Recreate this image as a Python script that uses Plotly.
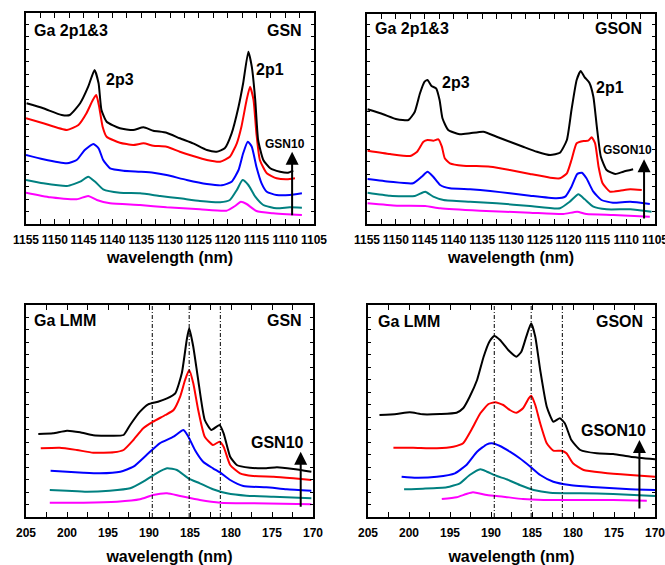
import plotly.graph_objects as go

W, H = 665, 565

# ---------------- Ga 2p1&3, GSN series (wavelength nm, intensity a.u.) ----------------
gsn_2p_black_wl = [1154.9, 1152.0, 1148.8, 1147.4, 1145.6, 1144.2, 1143.1, 1142.4, 1141.9, 1141.0,
                   1138.7, 1136.4, 1134.6, 1132.9, 1130.6, 1128.3, 1126.0, 1123.6, 1121.9, 1120.5,
                   1119.3, 1118.1, 1117.3, 1116.4, 1115.8, 1115.2, 1114.7, 1113.8, 1112.6, 1110.9,
                   1109.5, 1108.6]
gsn_2p_black_int = [120.7, 115.7, 109, 109, 120.7, 137.3, 154, 140.7, 114, 102.3,
                    95.7, 94, 96.7, 93.3, 91.3, 85.7, 80.7, 74, 72.3, 75.7,
                    90.7, 117.3, 140.7, 172.3, 157.3, 124, 84, 64, 55.7, 52.3,
                    51.3, 53.3]
gsn_2p_red_wl = [1155.0, 1152.0, 1147.9, 1145.9, 1144.5, 1143.4, 1142.8, 1142.3, 1141.7, 1141.0,
                 1138.7, 1136.4, 1134.6, 1132.9, 1130.6, 1128.3, 1126.0, 1123.6, 1121.3, 1119.6,
                 1118.4, 1117.6, 1116.7, 1116.1, 1115.5, 1115.0, 1114.4, 1113.2, 1111.5, 1109.7,
                 1108.3]
gsn_2p_red_int = [105.7, 100.7, 94, 99, 110.7, 124, 129, 117.3, 97.3, 87.3,
                  81.3, 79, 80.7, 78.3, 77.3, 72.3, 68, 64, 62.3, 67.3,
                  80.7, 97.3, 124, 137.3, 124, 90.7, 64, 50.7, 45.7, 44.7,
                  45.7]
gsn_2p_blue_wl = [1155.0, 1152.0, 1147.9, 1146.2, 1144.8, 1143.3, 1142.4, 1141.6, 1140.4, 1138.1,
                  1135.2, 1132.9, 1130.6, 1127.1, 1123.6, 1121.0, 1119.3, 1118.1, 1117.3, 1116.5,
                  1115.8, 1115.0, 1114.1, 1113.2, 1111.5, 1109.2, 1107.1]
gsn_2p_blue_int = [69, 64.7, 60.7, 64, 74, 80, 75.7, 64, 55.7, 53.3,
                   52.3, 51.3, 49, 44, 40, 38.7, 42.3, 54, 70.7, 82.3,
                   77.3, 57.3, 40.7, 32.3, 29, 29, 30.7]
gsn_2p_teal_wl = [1155.0, 1152.0, 1147.9, 1145.6, 1144.2, 1143.0, 1141.6, 1138.7, 1135.2, 1131.7,
                  1128.3, 1124.8, 1121.3, 1119.6, 1118.4, 1117.4, 1116.4, 1115.2, 1113.8, 1111.5,
                  1109.2, 1107.1]
gsn_2p_teal_int = [44, 40.7, 38, 42.3, 47.3, 42.3, 34.7, 31.3, 30.7, 28,
                   25.7, 23, 21.7, 24, 34, 44, 39, 27.3, 19, 15.7,
                   16.7, 16.3]
gsn_2p_pink_wl = [1155.0, 1150.8, 1146.2, 1144.2, 1142.7, 1140.4, 1135.2, 1130.6, 1124.8, 1120.2,
                  1118.7, 1117.7, 1116.7, 1115.0, 1112.1, 1109.7, 1107.1]
gsn_2p_pink_int = [31.3, 26.7, 24.7, 28, 24, 20.7, 19, 16.7, 14.7, 13.3,
                   18, 22.3, 20, 13, 10.7, 9.7, 9]

# ---------------- Ga 2p1&3, GSON series ----------------
gson_2p_black_wl = [1154.9, 1152.2, 1149.8, 1147.8, 1146.7, 1145.8, 1145.0, 1144.5, 1143.8, 1143.0,
                    1142.4, 1141.9, 1140.9, 1138.9, 1137.1, 1134.8, 1132.5, 1130.2, 1127.9, 1125.5,
                    1123.2, 1121.5, 1120.3, 1119.5, 1118.6, 1117.9, 1117.2, 1116.4, 1115.7, 1115.1,
                    1114.4, 1113.4, 1111.9, 1110.5, 1108.8]
gson_2p_black_int = [114.7, 109.7, 104.7, 104, 112.3, 130.7, 142.3, 144, 138, 135.7,
                     124, 105.7, 94, 89.7, 90.7, 92.3, 87.3, 82.3, 77.3, 72.3,
                     69, 71.3, 84, 114, 144, 153, 146.7, 141.3, 127.3, 97.3,
                     67.3, 54, 50, 52.3, 54.7]
gson_2p_red_wl = [1154.9, 1151.0, 1147.5, 1146.3, 1145.2, 1144.5, 1143.5, 1142.6, 1142.0, 1141.5,
                  1140.6, 1138.3, 1136.0, 1133.6, 1130.2, 1126.7, 1123.2, 1121.5, 1120.3, 1119.5,
                  1118.6, 1117.4, 1116.6, 1116.0, 1115.4, 1114.8, 1114.1, 1112.8, 1111.1, 1109.3,
                  1107.3]
gson_2p_red_int = [73.3, 70, 68, 72.3, 82.3, 84, 83.3, 84.7, 77.3, 65.7,
                   60.7, 58.3, 58, 57.3, 54, 50, 46.3, 45.7, 50.7, 64,
                   80.7, 83, 83.3, 86.7, 80.7, 57.3, 40.7, 32.3, 33.3, 34.7,
                   34]
gson_2p_blue_wl = [1154.9, 1151.0, 1147.0, 1145.5, 1144.5, 1143.5, 1142.3, 1140.6, 1137.1, 1133.6,
                   1130.2, 1126.7, 1122.1, 1120.6, 1119.5, 1118.5, 1117.7, 1116.9, 1115.7, 1114.3,
                   1112.3, 1109.3, 1105.9]
gson_2p_blue_int = [45, 42.3, 40.7, 47.3, 52.3, 47.3, 39, 35.7, 34.7, 33,
                    30.7, 28.3, 25.7, 27.3, 37.3, 50, 51.3, 45.7, 32.3, 24,
                    21.3, 22.3, 20]
gson_2p_teal_wl = [1154.9, 1151.0, 1146.7, 1144.9, 1143.5, 1141.7, 1137.1, 1132.5, 1126.7, 1121.5,
                   1119.8, 1118.3, 1117.2, 1115.7, 1113.4, 1109.3, 1105.6]
gson_2p_teal_int = [31.3, 28.3, 28, 32.3, 27.3, 24, 22.3, 20.7, 18, 15.7,
                    22.3, 29.7, 24.7, 17.3, 14.7, 14.7, 12.3]
gson_2p_pink_wl = [1154.9, 1149.8, 1144.9, 1142.3, 1135.4, 1126.7, 1120.9, 1118.5, 1116.9, 1112.2,
                   1105.9]
gson_2p_pink_int = [20.7, 18.3, 18, 15.7, 13.3, 11.3, 10, 12.3, 10, 9,
                    7.3]

# ---------------- Ga LMM, GSN series ----------------
gsn_lmm_black_wl = [203.5, 201.7, 200.0, 198.4, 196.8, 194.8, 193.1, 192.3, 191.1, 190.1,
                    188.9, 187.8, 186.8, 186.0, 185.4, 185.1, 184.6, 184.0, 183.2, 182.4,
                    181.4, 180.9, 180.1, 179.3, 177.7, 175.7, 174.4, 172.4, 170.2]
gsn_lmm_black_int = [83, 83.7, 86.3, 84.7, 81.7, 81.3, 82, 92, 105.3, 112.7,
                     115.3, 118.7, 123.7, 143.7, 177, 188.7, 170.3, 137, 97, 87,
                     92, 83.7, 60.3, 52, 49.3, 48.7, 49.7, 48, 45.3]
gsn_lmm_red_wl = [203.2, 200.9, 198.8, 196.8, 194.3, 193.1, 191.9, 190.7, 189.5, 188.0,
                  187.0, 186.2, 185.6, 185.1, 184.6, 184.0, 183.2, 182.2, 181.4, 180.9,
                  180.1, 178.9, 177.3, 174.8, 172.4, 170.2]
gsn_lmm_red_int = [68.7, 69.3, 67, 64.3, 64.7, 67, 77, 88.7, 95.3, 102,
                   107, 120.3, 137, 147, 133.7, 107, 80.3, 72, 75.3, 70.3,
                   52, 43.7, 41, 40.3, 38.7, 37]
gsn_lmm_blue_wl = [202.0, 200.0, 198.0, 196.0, 193.5, 191.9, 190.3, 188.7, 187.0, 185.8,
                   185.2, 184.4, 183.4, 182.2, 181.3, 180.1, 178.5, 175.7, 173.2, 170.2]
gsn_lmm_blue_int = [46.3, 45.3, 44.3, 43.7, 45.3, 50.3, 62, 73.7, 80.3, 87,
                    80.3, 67, 55.3, 48.7, 44.3, 37, 31, 29.7, 27.7, 26.3]
gsn_lmm_teal_wl = [202.1, 200.0, 197.6, 194.8, 192.3, 190.7, 189.1, 187.8, 186.6, 185.2,
                   183.8, 182.2, 180.5, 178.1, 174.8, 170.2]
gsn_lmm_teal_int = [27, 26.3, 25.3, 26.3, 28.7, 35.3, 43.7, 48.7, 47, 38.7,
                    33.7, 27.7, 23.7, 21.3, 20.3, 18.7]
gsn_lmm_pink_wl = [202.1, 198.0, 193.9, 191.1, 189.5, 187.8, 186.2, 183.8, 181.3, 177.3,
                   170.2]
gsn_lmm_pink_int = [14.3, 14.3, 15.3, 17.7, 22, 23.7, 21, 17, 14.3, 13.7,
                    12.7]

# ---------------- Ga LMM, GSON series ----------------
gson_lmm_black_wl = [203.6, 201.5, 199.9, 198.3, 196.2, 194.2, 193.4, 192.6, 191.7, 190.9,
                     190.2, 189.6, 188.9, 187.9, 186.9, 186.3, 185.7, 185.1, 184.6, 184.0,
                     183.2, 182.4, 181.6, 181.0, 180.2, 179.1, 177.1, 175.1, 173.0, 170.0]
gson_lmm_black_int = [102, 103, 104.7, 102.7, 103, 104.3, 108.7, 120.3, 137, 160.3,
                      175.3, 181, 177, 167, 160.3, 165.3, 180.3, 193.7, 180.3, 147,
                      110.3, 95.3, 98.7, 93.7, 77, 67, 63.7, 63, 60.3, 57.7]
gson_lmm_red_wl = [201.9, 199.5, 196.6, 194.6, 193.4, 192.4, 191.3, 190.3, 189.5, 188.5,
                   187.7, 186.9, 186.1, 185.4, 185.1, 184.6, 184.0, 183.2, 182.4, 181.4,
                   180.8, 180.0, 178.7, 176.3, 173.0, 170.0]
gson_lmm_red_int = [69.3, 69.3, 68.7, 70.3, 73.7, 87, 103.7, 113, 114.7, 112,
                    107, 104.3, 108.7, 118.7, 121.3, 112, 93.7, 73.7, 66.3, 66.3,
                    63.7, 53.7, 47, 44.3, 42, 40.3]
gson_lmm_blue_wl = [200.9, 199.1, 196.6, 194.4, 193.0, 191.7, 190.5, 189.9, 188.9, 187.7,
                    186.5, 185.2, 184.0, 182.4, 180.4, 177.1, 173.0, 170.0]
gson_lmm_blue_int = [40.3, 39.3, 40.3, 43.7, 52, 65.3, 72.7, 73.7, 71, 65.3,
                     58.7, 50.3, 42, 35.3, 32, 29.7, 27.7, 27]
gson_lmm_teal_wl = [200.6, 198.3, 195.4, 193.8, 192.6, 191.3, 190.5, 189.3, 188.1, 186.5,
                    184.8, 182.8, 179.1, 175.1, 170.0]
gson_lmm_teal_int = [27.7, 28.3, 29.7, 33.7, 42, 47.7, 45.3, 41, 37.7, 32,
                     27, 24.3, 23.7, 23, 21]
gson_lmm_pink_wl = [196.0, 194.2, 193.0, 192.2, 190.5, 188.5, 186.1, 183.6, 179.1, 175.1,
                    171.0]
gson_lmm_pink_int = [18, 19.7, 23, 24.7, 22, 20.3, 18, 17, 17, 17,
                     16.3]

# Reference wavelengths marked in the LMM panels
lmm_marker_wl = [189.6, 185.1, 181.3]

# Tick labels
wl_2p_ticks = [1155, 1150, 1145, 1140, 1135, 1130, 1125, 1120, 1115, 1110, 1105]
wl_lmm_ticks = [205, 200, 195, 190, 185, 180, 175, 170]

COLORS = ["#000000", "#ff0000", "#0000ff", "#008080", "#ff00ff"]
FONT = "Liberation Sans, Arial, sans-serif"

panels = [
    dict(box=(26, 13, 314, 224), xr=(1155, 1105), yr=(0, 211), ticks=wl_2p_ticks, step=2.5,
         curves=[(gsn_2p_black_wl, gsn_2p_black_int), (gsn_2p_red_wl, gsn_2p_red_int),
                 (gsn_2p_blue_wl, gsn_2p_blue_int), (gsn_2p_teal_wl, gsn_2p_teal_int),
                 (gsn_2p_pink_wl, gsn_2p_pink_int)],
         left="Ga 2p1&3", right="GSN", left_pos=(0.021, 0.919), right_pos=(0.965, 0.919),
         peaks=[("2p3", 1138.7, 145), ("2p1", 1112.6, 155)], standoff=6,
         arrow=(1108.8, 7.3, 72.3), arrow_label=("GSN10", 1110.0, 80, 12), markers=[]),
    dict(box=(367, 14, 655, 224), xr=(1155, 1105), yr=(0, 210), ticks=wl_2p_ticks, step=2.5,
         curves=[(gson_2p_black_wl, gson_2p_black_int), (gson_2p_red_wl, gson_2p_red_int),
                 (gson_2p_blue_wl, gson_2p_blue_int), (gson_2p_teal_wl, gson_2p_teal_int),
                 (gson_2p_pink_wl, gson_2p_pink_int)],
         left="Ga 2p1&3", right="GSON", left_pos=(0.02, 0.929), right_pos=(0.963, 0.929),
         peaks=[("2p3", 1139.5, 141), ("2p1", 1112.8, 136)], standoff=6,
         arrow=(1106.9, 4, 64.7), arrow_label=("GSON10", 1109.8, 74, 12), markers=[]),
    dict(box=(26, 305, 313, 517), xr=(205, 170), yr=(0, 212), ticks=wl_lmm_ticks, step=2.5,
         curves=[(gsn_lmm_black_wl, gsn_lmm_black_int), (gsn_lmm_red_wl, gsn_lmm_red_int),
                 (gsn_lmm_blue_wl, gsn_lmm_blue_int), (gsn_lmm_teal_wl, gsn_lmm_teal_int),
                 (gsn_lmm_pink_wl, gsn_lmm_pink_int)],
         left="Ga LMM", right="GSN", left_pos=(0.02, 0.926), right_pos=(0.969, 0.926),
         peaks=[], standoff=13,
         arrow=(171.5, 8.7, 65.3), arrow_label=("GSN10", 174.35, 74.3, 16), markers=lmm_marker_wl),
    dict(box=(368, 305, 655, 517), xr=(205, 170), yr=(0, 212), ticks=wl_lmm_ticks, step=2.5,
         curves=[(gson_lmm_black_wl, gson_lmm_black_int), (gson_lmm_red_wl, gson_lmm_red_int),
                 (gson_lmm_blue_wl, gson_lmm_blue_int), (gson_lmm_teal_wl, gson_lmm_teal_int),
                 (gson_lmm_pink_wl, gson_lmm_pink_int)],
         left="Ga LMM", right="GSON", left_pos=(0.027, 0.921), right_pos=(0.965, 0.921),
         peaks=[], standoff=13,
         arrow=(171.9, 7, 77), arrow_label=("GSON10", 175.1, 87, 16), markers=lmm_marker_wl),
]

fig = go.Figure()
annotations = []
shapes = []

for i, p in enumerate(panels, start=1):
    xa = "x" if i == 1 else f"x{i}"
    ya = "y" if i == 1 else f"y{i}"
    xkey = "xaxis" if i == 1 else f"xaxis{i}"
    ykey = "yaxis" if i == 1 else f"yaxis{i}"
    x0, y0, x1, y1 = p["box"]

    # spectra, drawn bottom-up so the black curve sits on top
    for (wl, inten), col in reversed(list(zip(p["curves"], COLORS))):
        fig.add_trace(go.Scatter(x=wl, y=inten, mode="lines", xaxis=xa, yaxis=ya,
                                 line=dict(color=col, width=2, shape="spline", smoothing=0.5),
                                 showlegend=False, hoverinfo="skip"))

    # tick positions every 2.5 nm, labels every 5 nm
    hi, lo = max(p["xr"]), min(p["xr"])
    n = int(round((hi - lo) / p["step"]))
    tv = [hi - k * p["step"] for k in range(n + 1)]
    tt = [str(int(v)) if v in p["ticks"] else "" for v in tv]

    fig.update_layout({
        xkey: dict(domain=[x0 / W, x1 / W], anchor=ya, range=list(p["xr"]),
                   tickvals=tv, ticktext=tt, tickangle=0, ticks="inside", ticklen=5,
                   tickwidth=1, tickcolor="black", showline=True, linecolor="black",
                   linewidth=1.5, mirror="ticks", showgrid=False, zeroline=False,
                   ticklabelstandoff=4, automargin=False, ticklabeloverflow="allow",
                   tickfont=dict(family=FONT, size=12, color="black", weight="bold"),
                   title=dict(text="wavelength (nm)", standoff=p["standoff"],
                              font=dict(family=FONT, size=16, color="black", weight="bold"))),
        ykey: dict(domain=[1 - y1 / H, 1 - y0 / H], anchor=xa, range=list(p["yr"]),
                   dtick=12.5, tick0=0, ticks="inside", ticklen=3, tickwidth=1,
                   tickcolor="black", showticklabels=False, showline=True,
                   linecolor="black", linewidth=1.5, mirror="ticks", showgrid=False,
                   zeroline=False, automargin=False),
    })

    dom_x, dom_y = f"{xa} domain", f"{ya} domain"
    annotations.append(dict(text=p["left"], xref=dom_x, yref=dom_y, x=p["left_pos"][0],
                            y=p["left_pos"][1], xanchor="left", yanchor="middle", showarrow=False,
                            font=dict(family=FONT, size=16, color="black", weight="bold")))
    annotations.append(dict(text=p["right"], xref=dom_x, yref=dom_y, x=p["right_pos"][0],
                            y=p["right_pos"][1], xanchor="right", yanchor="middle", showarrow=False,
                            font=dict(family=FONT, size=16, color="black", weight="bold")))
    for txt, px, py in p["peaks"]:
        annotations.append(dict(text=txt, xref=xa, yref=ya, x=px, y=py, showarrow=False,
                                font=dict(family=FONT, size=16, color="black", weight="bold")))

    ax_x, ay0, ay1 = p["arrow"]
    annotations.append(dict(text="", xref=xa, yref=ya, x=ax_x, y=ay1, axref=xa, ayref=ya,
                            ax=ax_x, ay=ay0, showarrow=True, arrowhead=2, arrowsize=1.3,
                            arrowwidth=2, arrowcolor="black"))
    lt, lx, ly, ls = p["arrow_label"]
    annotations.append(dict(text=lt, xref=xa, yref=ya, x=lx, y=ly, showarrow=False,
                            font=dict(family=FONT, size=ls, color="black", weight="bold")))

    for mwl in p["markers"]:
        shapes.append(dict(type="line", xref=xa, yref=dom_y, x0=mwl, x1=mwl, y0=0, y1=1,
                           line=dict(color="black", width=1, dash="4px,2px,1px,2px")))

fig.update_layout(width=W, height=H, margin=dict(l=0, r=0, t=0, b=0),
                  paper_bgcolor="white", plot_bgcolor="white",
                  annotations=annotations, shapes=shapes)

fig.write_html("out.html")
